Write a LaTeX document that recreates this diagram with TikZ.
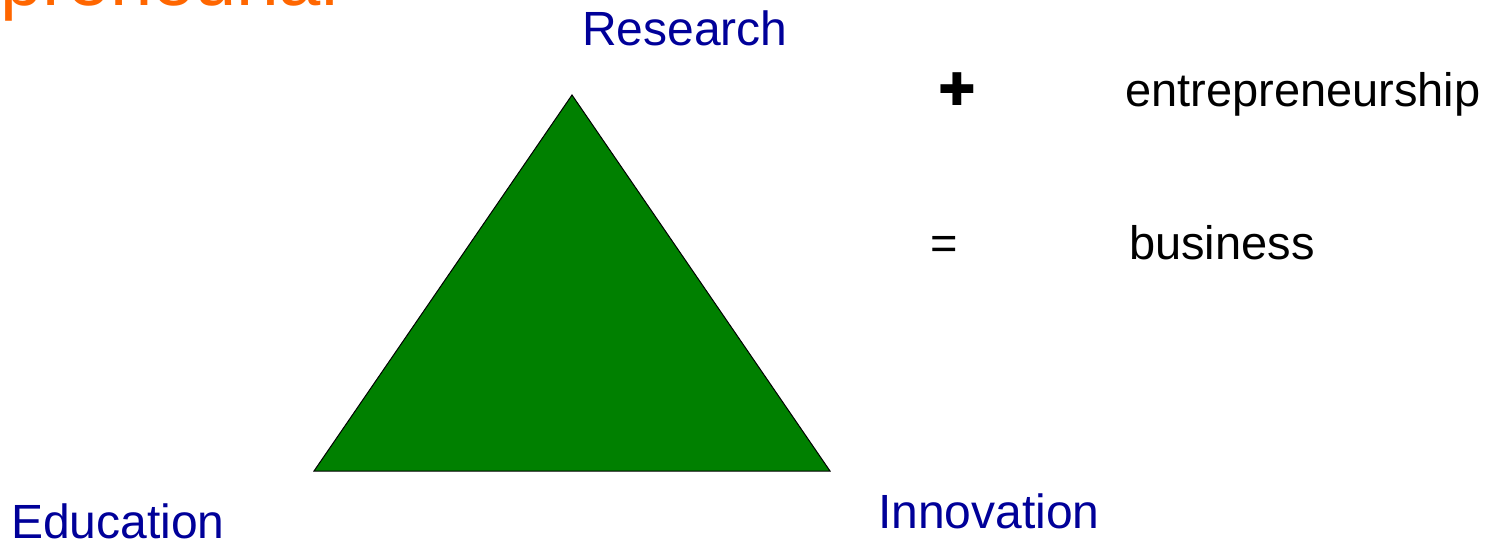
\documentclass[tikz,border=0pt]{standalone}
\usepackage{fontspec}
\setmainfont{Liberation Sans}
\newfontfamily\symfont{DejaVu Sans}
\definecolor{orangetitle}{HTML}{FF6600}
\definecolor{labelblue}{HTML}{000099}
\definecolor{trigreen}{HTML}{008000}
\begin{document}
\begin{tikzpicture}[x=1pt,y=1pt,
  lbl/.style={inner sep=0pt,anchor=base west,font=\fontsize{47}{50}\selectfont},
  vlbl/.style={inner sep=0pt,anchor=base west,font=\fontsize{48}{50}\selectfont,text=labelblue},
  blk/.style={lbl,text=black}]
\useasboundingbox (0,0) rectangle (1507,-543);
\clip (0,0) rectangle (1507,-543);
\node[inner sep=0pt,anchor=base west,text=orangetitle,font=\fontsize{76}{80}\selectfont] (title) at (0,-6) {preneurial};
\coordinate (apex) at (572,-95);
\coordinate (bl) at (314,-471);
\coordinate (br) at (830,-471);
\filldraw[fill=trigreen,draw=black,line width=1pt,line join=miter] (apex) -- (bl) -- (br) -- cycle;
\node[vlbl] (research) at (582,-46) {Research};
\node[vlbl] (education) at (11,-538) {Education};
\node[vlbl] (innovation) at (878,-528) {Innovation};
\node[inner sep=0pt,font=\symfont\fontsize{45}{45}\selectfont] (plus) at (957,-89) {✚};
\node[blk] (entre) at (1125,-106) {entrepreneurship};
\node[blk] (eq) at (930,-259) {=};
\node[blk] (business) at (1129,-259) {business};
\end{tikzpicture}
\end{document}
